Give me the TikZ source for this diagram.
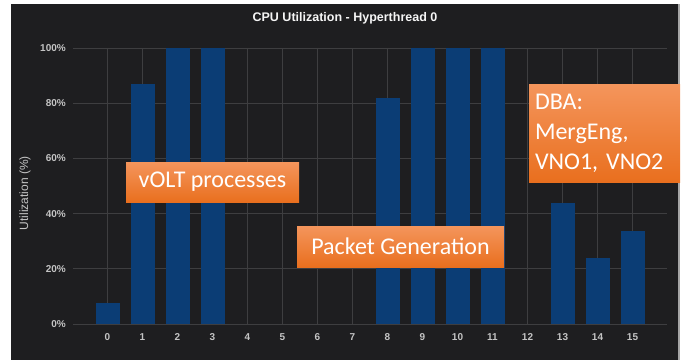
\documentclass[tikz,border=0pt]{standalone}
\usepackage{fontspec}
\setmainfont{Carlito}
\newfontfamily\chartfont{Liberation Sans}
\definecolor{panelbg}{HTML}{1E1E20}
\definecolor{gridgray}{HTML}{3E3E40}
\definecolor{barblue}{HTML}{0B3D75}
\definecolor{ticktext}{HTML}{C4C4C4}
\definecolor{boxtop}{HTML}{F4955C}
\definecolor{boxbottom}{HTML}{E96F1E}
\tikzset{
  tick label/.style={text=ticktext,font=\chartfont\bfseries\fontsize{10}{12}\selectfont,inner sep=0pt},
  note box/.style={top color=boxtop,bottom color=boxbottom,text=white,
    font=\fontsize{24}{30}\selectfont,inner sep=0pt},
  bar/.style={fill=barblue}
}
\begin{document}
\begin{tikzpicture}[x=1pt,y=-1pt]
\useasboundingbox (0,0) rectangle (685,360);
% Hintergrund
\fill[panelbg] (11,4) rectangle (678,360);
\draw[gray!70,line width=1.5pt] (679,4) -- (679,360);
% Titel
\node[text=white!92!gray,font=\chartfont\bfseries\fontsize{12.5}{14}\selectfont] (title) at (345,18) {CPU Utilization - Hyperthread 0};
% Gitter und y-Achse
\foreach \p in {0,20,...,100}{
  \draw[gridgray,line width=1pt] (73,{324-2.76*\p}) -- (667,{324-2.76*\p});
  \node[tick label,anchor=east] (y\p) at (66,{324-2.76*\p}) {\p\%};
}
\foreach \i in {0,...,15}{
  \draw[gridgray,line width=1pt] ({107.5+35*\i},48) -- ({107.5+35*\i},324);
  \node[tick label] (x\i) at ({107.5+35*\i},337) {\i};
}
\node[rotate=90,text=ticktext,font=\chartfont\fontsize{12}{14}\selectfont] (ylabel) at (25,193) {Utilization (\%)};
% Balken
\foreach \i/\v in {0/7.5,1/87,2/100,3/100,8/82,9/100,10/100,11/100,13/44,14/24,15/33.7}{
  \fill[bar] ({95.5+35*\i},324) rectangle ({119.5+35*\i},{324-2.76*\v});
}
% Beschriftungen
\node[note box,minimum width=173pt,minimum height=40pt] (volt) at (212.5,182) {vOLT processes};
\node[note box,minimum width=207pt,minimum height=41pt] (packet) at (400.5,246.5) {Packet Generation};
\node[note box,minimum width=151pt,minimum height=98pt,text width=139pt,inner xsep=6pt,align=left] (dba) at (604.5,133) {DBA:\\MergEng,\\VNO1, VNO2};
\end{tikzpicture}
\end{document}
